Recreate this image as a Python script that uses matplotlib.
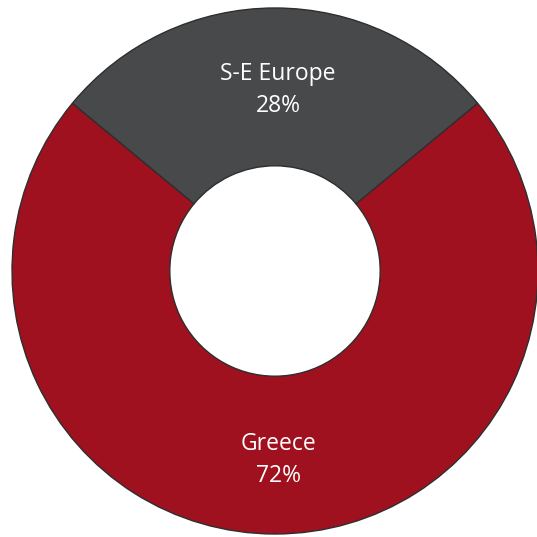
import matplotlib
matplotlib.use("Agg")
import matplotlib.pyplot as plt

categories = ["S-E Europe", "Greece"]
shares = [28, 72]
colors = ["#48494b", "#a0111f"]

W = H = 537
dpi = 100
fig = plt.figure(figsize=(W / dpi, H / dpi), dpi=dpi)
ax = fig.add_axes([0, 0, 1, 1])

R_px = 263.0
cx, cy = 275.0, 271.0  # pixel center (from top-left)

labels = [f"{c}\n{s}%" for c, s in zip(categories, shares)]
start = 90 - shares[0] / sum(shares) * 360 / 2

wedges, texts = ax.pie(
    shares,
    labels=labels,
    colors=colors,
    startangle=start,
    counterclock=True,
    labeldistance=0.705,
    wedgeprops=dict(width=0.6, edgecolor="#2e2e2e", linewidth=1.0),
    textprops=dict(color="white", fontsize=16.5, family=["Open Sans", "DejaVu Sans"],
                   fontweight="normal", ha="center", va="center", linespacing=1.45),
)
for t in texts:
    t.set_ha("center")
    t.set_va("center")
    x, y = t.get_position()
    t.set_position((x + 3 / R_px, y - 4 / R_px))

ax.set_xlim(-cx / R_px, (W - cx) / R_px)
ax.set_ylim(-(H - cy) / R_px, cy / R_px)
ax.set_aspect("equal")
ax.axis("off")

fig.savefig("out.png", dpi=dpi)
